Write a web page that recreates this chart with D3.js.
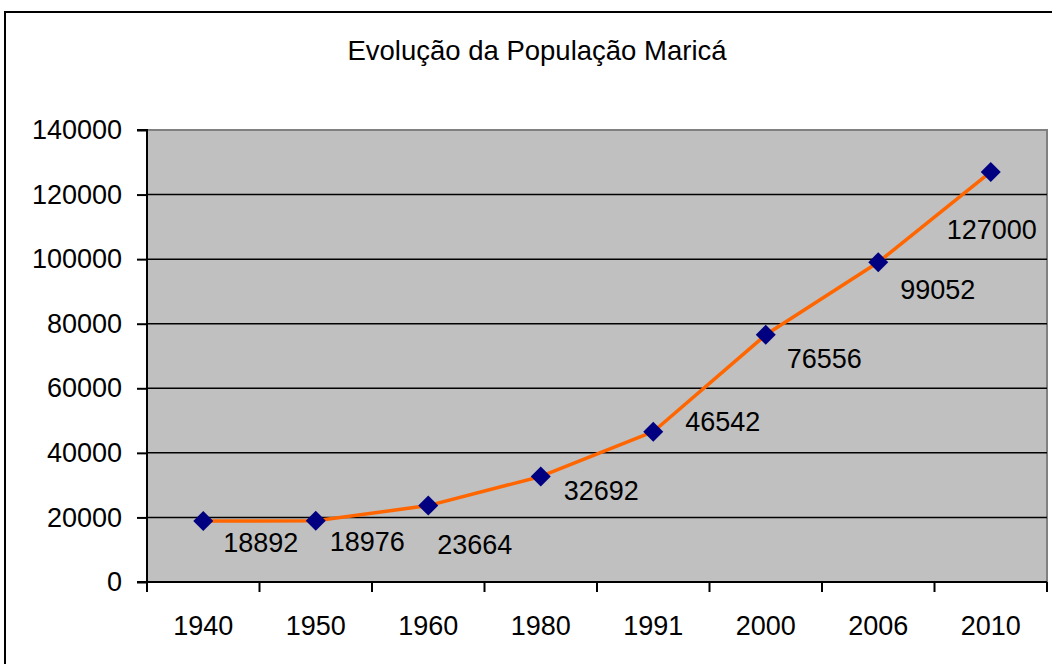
<!DOCTYPE html>
<html>
<head>
<meta charset="utf-8">
<script src="https://cdn.jsdelivr.net/npm/d3@7"></script>
<style>
  html, body { margin: 0; padding: 0; background: #fff; }
  svg { display: block; font-family: "Liberation Sans", Arial, sans-serif; }
</style>
</head>
<body>
<svg id="chart" width="1052" height="664"></svg>
<script>
const title = "Evolução da População Maricá";
const years = ["1940", "1950", "1960", "1980", "1991", "2000", "2006", "2010"];
const population = [18892, 18976, 23664, 32692, 46542, 76556, 99052, 127000];
const yTicks = [0, 20000, 40000, 60000, 80000, 100000, 120000, 140000];
// label nudges (px) as Excel placed them
const labelDx = [20, 14, 9, 23, 32, 21, 22, -44];
const labelDy = [21, 21, 39, 14, -10, 23, 27, 57];

const W = 1052, H = 664;
const plot = { left: 147, top: 130, right: 1047, bottom: 582 };

const svg = d3.select("#chart");

/* Outer chart border */
svg.append("rect")
  .attr("x", 5).attr("y", 12)
  .attr("width", W + 20).attr("height", H + 20)
  .attr("fill", "#fff")
  .attr("stroke", "#000")
  .attr("stroke-width", 2);

svg.append("text")
  .attr("x", 537).attr("y", 60)
  .attr("text-anchor", "middle")
  .attr("font-size", 27.5)
  .attr("fill", "#000")
  .text(title);

const x = d3.scaleBand().domain(years).range([plot.left, plot.right]);
const y = d3.scaleLinear().domain([0, 140000]).range([plot.bottom, plot.top]);

/* Plot area */
svg.append("rect")
  .attr("x", plot.left).attr("y", plot.top)
  .attr("width", plot.right - plot.left)
  .attr("height", plot.bottom - plot.top)
  .attr("fill", "#c0c0c0");

svg.append("path")
  .attr("d", `M${plot.left},${plot.top}H${plot.right}V${plot.bottom}`)
  .attr("fill", "none")
  .attr("stroke", "#808080")
  .attr("stroke-width", 2);

svg.append("g")
  .selectAll("line")
  .data(yTicks.filter((d) => d > 0 && d < 140000))
  .join("line")
  .attr("x1", plot.left).attr("x2", plot.right)
  .attr("y1", (d) => y(d)).attr("y2", (d) => y(d))
  .attr("stroke", "#000")
  .attr("stroke-width", 1.5);

/* Axes */
const yAxis = svg.append("g")
  .attr("transform", `translate(${plot.left},0)`)
  .call(d3.axisLeft(y).tickValues(yTicks).tickFormat(d3.format("d")).tickSize(10).tickPadding(15));

const xAxis = svg.append("g")
  .attr("transform", `translate(0,${plot.bottom})`)
  .call(d3.axisBottom(x).tickSize(0).tickPadding(34));

xAxis.append("g")
  .selectAll("line")
  .data(d3.range(years.length + 1))
  .join("line")
  .attr("x1", (i) => plot.left + i * x.step())
  .attr("x2", (i) => plot.left + i * x.step())
  .attr("y1", 0).attr("y2", 10)
  .attr("stroke", "#000")
  .attr("stroke-width", 2);

[yAxis, xAxis].forEach((g) => {
  g.select(".domain").attr("stroke", "#000").attr("stroke-width", 2);
  g.selectAll(".tick line").attr("stroke", "#000").attr("stroke-width", 2);
  g.selectAll(".tick text")
    .attr("font-family", "Liberation Sans, Arial, sans-serif")
    .attr("font-size", 27)
    .attr("fill", "#000");
});
yAxis.select(".domain").attr("d", `M-10,${plot.top}H0V${plot.bottom}H-10`);
xAxis.select(".domain").attr("d", `M${plot.left},0H${plot.right}`);

/* Series */
const pts = years.map((yr, i) => ({ yr, v: population[i], i }));
const cx = (d) => x(d.yr) + x.bandwidth() / 2;

svg.append("path")
  .datum(pts)
  .attr("fill", "none")
  .attr("stroke", "#ff6600")
  .attr("stroke-width", 3.5)
  .attr("stroke-linejoin", "round")
  .attr("d", d3.line().x(cx).y((d) => y(d.v)));

svg.append("g")
  .selectAll("path")
  .data(pts)
  .join("path")
  .attr("transform", (d) => `translate(${cx(d)},${y(d.v)})`)
  .attr("d", "M0,-10L10,0L0,10L-10,0Z")
  .attr("fill", "#000080");

svg.append("g")
  .selectAll("text")
  .data(pts)
  .join("text")
  .attr("x", (d) => cx(d) + labelDx[d.i])
  .attr("y", (d) => y(d.v) + labelDy[d.i])
  .attr("dy", "0.36em")
  .attr("font-size", 27)
  .attr("fill", "#000")
  .text((d) => d.v);
</script>
</body>
</html>
